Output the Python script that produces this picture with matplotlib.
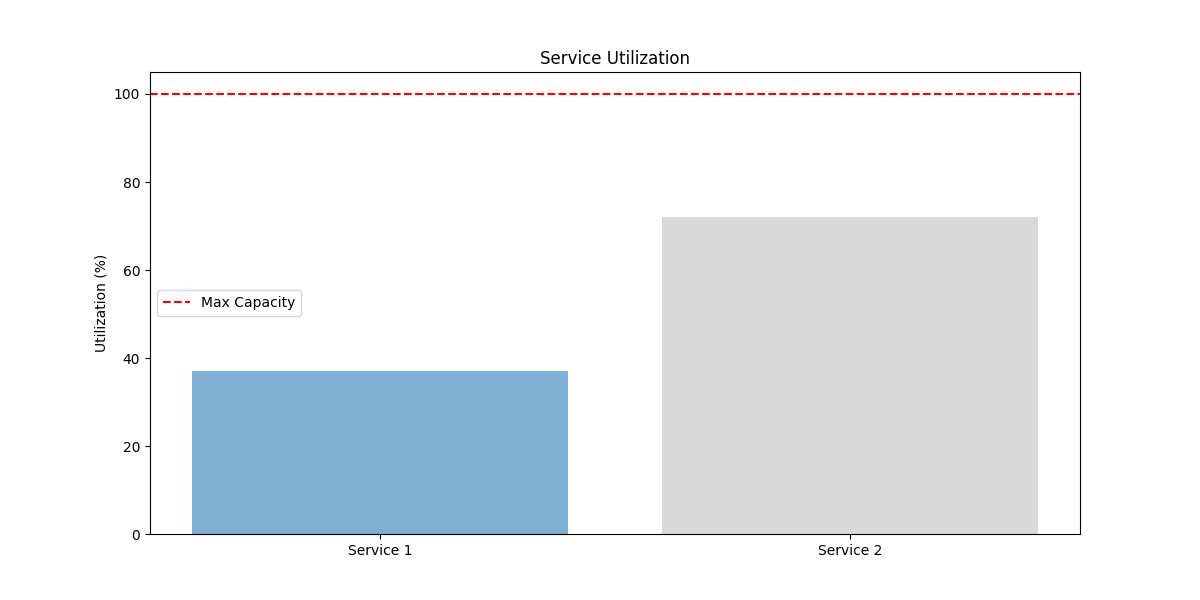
import matplotlib
matplotlib.use("Agg")
import matplotlib.pyplot as plt

services = ["Service 1", "Service 2"]
utilization = [37, 72]
bar_colors = ["#7fafd2", "#d9d9d9"]
max_capacity = 100

fig = plt.figure(figsize=[12, 6], dpi=100)
ax = fig.add_subplot(111)
ax.bar(services, utilization, color=bar_colors)
ax.axhline(max_capacity, color="red", linestyle="--", label="Max Capacity")
ax.set_title("Service Utilization")
ax.set_ylabel("Utilization (%)")
ax.legend(loc="center left")
fig.savefig("out.png", dpi=100)
